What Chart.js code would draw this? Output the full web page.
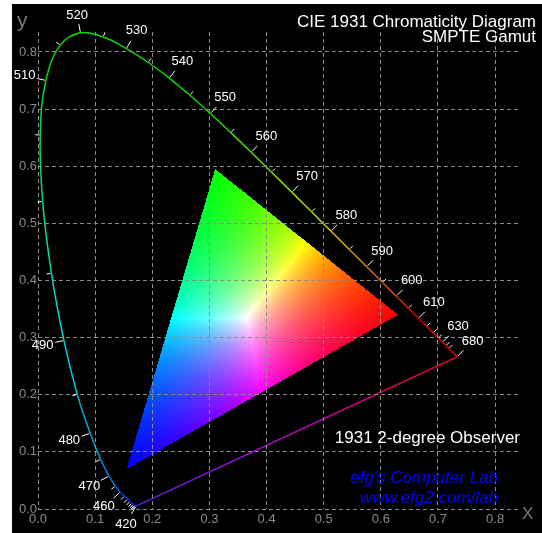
<!DOCTYPE html>
<html>
<head>
<meta charset="utf-8">
<script src="https://cdn.jsdelivr.net/npm/chart.js@4.4.1/dist/chart.umd.min.js"></script>
<style>
  html, body { margin: 0; padding: 0; background: #fff; }
  canvas { display: block; }
</style>
</head>
<body>
<canvas id="cie" width="542" height="533"></canvas>
<script>
// CIE 1931 2-degree spectral locus, 5 nm steps
const wavelengths = [410, 415, 420, 425, 430, 435, 440, 445, 450, 455,
                     460, 465, 470, 475, 480, 485, 490, 495, 500, 505,
                     510, 515, 520, 525, 530, 535, 540, 545, 550, 555,
                     560, 565, 570, 575, 580, 585, 590, 595, 600, 605,
                     610, 615, 620, 625, 630, 635, 640, 645, 650, 655,
                     660, 665, 670, 675, 680];
const locusX = [0.1726, 0.1721, 0.1714, 0.1703, 0.1689, 0.1669, 0.1644, 0.1611, 0.1566, 0.1510,
                0.1440, 0.1355, 0.1241, 0.1096, 0.0913, 0.0687, 0.0454, 0.0235, 0.0082, 0.0039,
                0.0139, 0.0389, 0.0743, 0.1142, 0.1547, 0.1929, 0.2296, 0.2658, 0.3016, 0.3373,
                0.3731, 0.4087, 0.4441, 0.4788, 0.5125, 0.5448, 0.5752, 0.6029, 0.6270, 0.6482,
                0.6658, 0.6801, 0.6915, 0.7006, 0.7079, 0.7140, 0.7190, 0.7230, 0.7260, 0.7283,
                0.7300, 0.7311, 0.7320, 0.7327, 0.7334];
const locusY = [0.0048, 0.0048, 0.0051, 0.0058, 0.0069, 0.0086, 0.0109, 0.0138, 0.0177, 0.0227,
                0.0297, 0.0399, 0.0578, 0.0868, 0.1327, 0.2007, 0.2950, 0.4127, 0.5384, 0.6548,
                0.7502, 0.8120, 0.8338, 0.8262, 0.8059, 0.7816, 0.7543, 0.7243, 0.6923, 0.6589,
                0.6245, 0.5896, 0.5547, 0.5202, 0.4866, 0.4544, 0.4242, 0.3965, 0.3725, 0.3514,
                0.3340, 0.3197, 0.3083, 0.2993, 0.2920, 0.2859, 0.2809, 0.2770, 0.2740, 0.2717,
                0.2700, 0.2689, 0.2680, 0.2673, 0.2666];

// wavelengths that get a tick mark / a label
const tickedNm = [420, 425, 430, 435, 440, 445, 450, 455, 460, 465, 470, 475, 480, 485, 490, 495,
                  500, 505, 510, 515, 520, 525, 530, 535, 540, 545, 550, 555, 560, 565, 570, 575,
                  580, 585, 590, 595, 600, 605, 610, 615, 620, 625, 630, 635, 640, 680];
const labelledNm = [420, 460, 470, 480, 490, 510, 520, 530, 540, 550, 560, 570, 580, 590,
                    600, 610, 630, 680];

// SMPTE-C primaries (R, G, B)
const gamutX = [0.630, 0.310, 0.155];
const gamutY = [0.340, 0.595, 0.070];

const titleLines = ['CIE 1931 Chromaticity Diagram', 'SMPTE Gamut'];
const observerText = '1931 2-degree Observer';
const creditLines = ["efg's Computer Lab", 'www.efg2.com/lab'];

const FONT = 'Arial, "Liberation Sans", sans-serif';

// --- colour helpers ---
function inv3(m) {
  const [a, b, c] = m[0], [d, e, f] = m[1], [g, h, i] = m[2];
  const A = e * i - f * h, B = -(d * i - f * g), C = d * h - e * g;
  const det = a * A + b * B + c * C;
  return [
    [A / det, -(b * i - c * h) / det, (b * f - c * e) / det],
    [B / det, (a * i - c * g) / det, -(a * f - c * d) / det],
    [C / det, -(a * h - b * g) / det, (a * e - b * d) / det]
  ];
}

// plain (unbalanced) primaries matrix: white lands on the triangle's centroid
const xyzToRgb = inv3([0, 1, 2].map(r => [0, 1, 2].map(k => {
  const x = gamutX[k], y = gamutY[k];
  return [x, y, 1 - x - y][r];
})));

function chromaToRGB(x, y) {
  const z = 1 - x - y;
  const rgb = xyzToRgb.map(row => Math.max(0, row[0] * x + row[1] * y + row[2] * z));
  const m = Math.max(rgb[0], rgb[1], rgb[2]) || 1;
  return rgb.map(v => Math.round(255 * v / m));
}

function locusColour(nm) {
  let r = 0, g = 0, b = 0;
  if (nm < 440) { r = (440 - nm) / 60; b = 1; }
  else if (nm < 490) { g = (nm - 440) / 50; b = 1; }
  else if (nm < 510) { g = 1; b = (510 - nm) / 20; }
  else if (nm < 545) { g = 1; }
  else if (nm < 578) { r = (nm - 545) / 33; g = 1; }
  else if (nm < 605) { r = 1; g = (605 - nm) / 27 * 0.9; }
  else { r = 1; }
  const k = 0.86;
  return `rgb(${Math.round(255 * r * k)},${Math.round(255 * g * k)},${Math.round(255 * b * k)})`;
}

const idx420 = wavelengths.indexOf(420);
const idx680 = wavelengths.indexOf(680);

function purpleGradient(c) {
  const ch = c.chart;
  const sx = ch.scales.x, sy = ch.scales.y;
  if (!sx || !sy || !ch.chartArea) return '#a0c';
  const p = [sx.getPixelForValue(locusX[idx420]), sy.getPixelForValue(locusY[idx420]),
             sx.getPixelForValue(locusX[idx680]), sy.getPixelForValue(locusY[idx680])];
  if (!p.every(Number.isFinite)) return '#a0c';
  const g = ch.ctx.createLinearGradient(p[0], p[1], p[2], p[3]);
  g.addColorStop(0, '#5a1ef0');
  g.addColorStop(0.5, '#c000c0');
  g.addColorStop(1, '#e00020');
  return g;
}

// --- plugins ---
const backdrop = {
  id: 'backdrop',
  beforeDraw(chart) {
    const ctx = chart.ctx;
    ctx.save();
    ctx.fillStyle = '#fff';
    ctx.fillRect(0, 0, chart.width, chart.height);
    ctx.fillStyle = '#000';
    ctx.fillRect(12, 4, chart.width - 12, chart.height - 4);
    ctx.restore();
  }
};

const gamutFill = {
  id: 'gamutFill',
  beforeDatasetsDraw(chart) {
    const { ctx, scales: { x: sx, y: sy } } = chart;
    const vx = gamutX.map(v => sx.getPixelForValue(v));
    const vy = gamutY.map(v => sy.getPixelForValue(v));
    const x0 = Math.floor(Math.min(...vx)), x1 = Math.ceil(Math.max(...vx));
    const y0 = Math.floor(Math.min(...vy)), y1 = Math.ceil(Math.max(...vy));
    const w = x1 - x0 + 1, h = y1 - y0 + 1;
    const off = document.createElement('canvas');
    off.width = w; off.height = h;
    const octx = off.getContext('2d');
    const img = octx.createImageData(w, h);
    const cross = (ax, ay, bx, by, px, py) => (bx - ax) * (py - ay) - (by - ay) * (px - ax);
    const sgn = Math.sign(cross(vx[0], vy[0], vx[1], vy[1], vx[2], vy[2]));
    for (let j = 0; j < h; j++) {
      const py = y0 + j + 0.5;
      const cy = sy.getValueForPixel(py);
      for (let i = 0; i < w; i++) {
        const px = x0 + i + 0.5;
        const c0 = cross(vx[0], vy[0], vx[1], vy[1], px, py) * sgn;
        const c1 = cross(vx[1], vy[1], vx[2], vy[2], px, py) * sgn;
        const c2 = cross(vx[2], vy[2], vx[0], vy[0], px, py) * sgn;
        if (c0 < 0 || c1 < 0 || c2 < 0) continue;
        const rgb = chromaToRGB(sx.getValueForPixel(px), cy);
        const o = (j * w + i) * 4;
        img.data[o] = rgb[0]; img.data[o + 1] = rgb[1]; img.data[o + 2] = rgb[2]; img.data[o + 3] = 255;
      }
    }
    octx.putImageData(img, 0, 0);
    ctx.drawImage(off, x0, y0);
  }
};

const nmMarks = {
  id: 'nmMarks',
  afterDraw(chart) {
    const { ctx, scales: { x: sx, y: sy } } = chart;
    const px = locusX.map(v => sx.getPixelForValue(v));
    const py = locusY.map(v => sy.getPixelForValue(v));
    ctx.save();
    ctx.strokeStyle = '#fff';
    ctx.fillStyle = '#fff';
    ctx.lineWidth = 1;
    ctx.font = '13px ' + FONT;
    ctx.textAlign = 'center';
    ctx.textBaseline = 'middle';
    tickedNm.forEach(nm => {
      const i = wavelengths.indexOf(nm);
      const a = Math.max(0, i - 1), b = Math.min(wavelengths.length - 1, i + 1);
      let dx = px[b] - px[a], dy = py[b] - py[a];
      const len = Math.hypot(dx, dy) || 1;
      dx /= len; dy /= len;
      const nx = dy, ny = -dx;   // outward normal
      const labelled = labelledNm.includes(nm);
      const L = labelled ? 8 : 4;
      ctx.beginPath();
      ctx.moveTo(px[i] + nx, py[i] + ny);
      ctx.lineTo(px[i] + nx * (L + 1), py[i] + ny * (L + 1));
      ctx.stroke();
      if (labelled) {
        const t = String(nm);
        const hw = ctx.measureText(t).width / 2, hh = 6;
        const d = L + 2 + Math.abs(nx) * hw + Math.abs(ny) * hh;
        ctx.fillText(t, px[i] + nx * d, py[i] + ny * d);
      }
    });
    ctx.restore();
  }
};

const captions = {
  id: 'captions',
  afterDraw(chart) {
    const ctx = chart.ctx;
    ctx.save();
    ctx.textBaseline = 'alphabetic';
    ctx.fillStyle = '#fff';
    ctx.font = '17px ' + FONT;
    ctx.textAlign = 'right';
    ctx.fillText(titleLines[0], 536, 26.5);
    ctx.fillText(titleLines[1], 536, 42);
    ctx.fillText(observerText, 520, 443);
    ctx.fillStyle = '#0000ff';
    ctx.font = 'italic 17px ' + FONT;
    ctx.fillText(creditLines[0], 498, 483);
    ctx.fillText(creditLines[1], 498, 503);
    ctx.fillStyle = '#7a7a7a';
    ctx.textAlign = 'left';
    ctx.font = '21px ' + FONT;
    ctx.fillText('y', 17, 27);
    ctx.font = '17px ' + FONT;
    ctx.fillText('X', 522, 519);
    ctx.restore();
  }
};

const axisTicks = (size) => ({
  stepSize: 0.1,
  includeBounds: false,
  color: '#8a8a8a',
  font: { family: FONT, size: size },
  callback: v => v.toFixed(1)
});

new Chart(document.getElementById('cie'), {
  type: 'scatter',
  data: {
    datasets: [
      {
        label: 'Spectral locus',
        data: locusX.map((x, i) => ({ x: x, y: locusY[i] })),
        showLine: true,
        tension: 0.4,
        pointRadius: 0,
        borderWidth: 1.5,
        borderColor: '#0c0',
        segment: {
          borderColor: c => locusColour(wavelengths[c.p0DataIndex])
        }
      },
      {
        label: 'Line of purples',
        data: [
          { x: locusX[idx420], y: locusY[idx420] },
          { x: locusX[idx680], y: locusY[idx680] }
        ],
        showLine: true,
        pointRadius: 0,
        borderWidth: 1.5,
        borderColor: purpleGradient
      }
    ]
  },
  options: {
    responsive: false,
    animation: false,
    events: [],
    layout: { padding: { left: 0, top: 32, right: 24, bottom: 0 } },
    plugins: {
      legend: { display: false },
      tooltip: { enabled: false }
    },
    scales: {
      x: {
        type: 'linear',
        min: 0,
        max: 0.84,
        afterFit: s => { s.height = 24; },
        ticks: Object.assign(axisTicks(13), { padding: 3, maxRotation: 0 }),
        grid: { color: '#8c8c8c', lineWidth: 1, drawTicks: false, z: 1 },
        border: { display: false, dash: [4, 3] }
      },
      y: {
        type: 'linear',
        min: 0,
        max: 0.835,
        afterFit: s => { s.width = 38; },
        ticks: Object.assign(axisTicks(13), { padding: 1 }),
        grid: { color: '#8c8c8c', lineWidth: 1, drawTicks: false, z: 1 },
        border: { display: false, dash: [4, 3] }
      }
    }
  },
  plugins: [backdrop, gamutFill, nmMarks, captions]
});
</script>
</body>
</html>
